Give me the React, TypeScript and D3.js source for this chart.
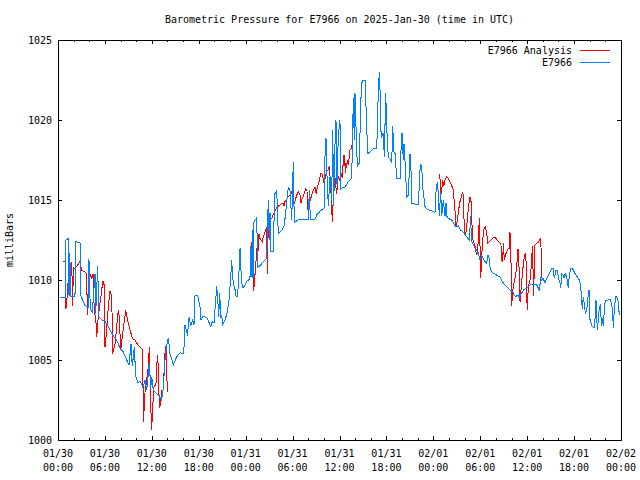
import React from "react";
import * as d3 from "d3";

const TITLE = "Barometric Pressure for E7966 on 2025-Jan-30 (time in UTC)";
const Y_LABEL = "milliBars";
const SERIES_NAMES = ["E7966 Analysis", "E7966"];
const SERIES_COLORS = ["#ff0000", "#0080ff"];
const Y_TICKS = [1000, 1005, 1010, 1015, 1020, 1025];
const START_UTC = Date.UTC(2025, 0, 30, 0, 0);
const SPAN_HOURS = 72;

// [hours since 2025-01-30 00:00 UTC, pressure in mb]
const analysisPart1: [number, number][] = [
  [0.68,1011.15],[0.90,1011.15],[0.98,1008.2],[1.11,1008.4],[1.24,1009.8],[1.41,1009.4],[1.53,1011.0],[1.66,1010.4],[1.75,1011.15],[1.88,1008.4],[1.96,1010.8],[2.17,1010.7],[2.60,1011.0],[2.81,1011.2],[3.03,1010.6],[3.45,1010.5],[3.67,1010.4],[3.75,1007.8],[3.87,1009.2],[4.00,1010.1],[4.18,1010.3],[4.31,1010.1],[4.51,1010.4],[4.64,1007.9],[4.82,1007.7],[4.95,1006.45],[5.08,1007.3],[5.15,1007.7],[5.37,1008.55],[5.50,1009.0],[5.72,1009.9],[5.88,1009.9],[6.01,1005.8],[6.23,1006.9],[6.43,1008.3],[6.65,1009.3],[6.87,1009.0],[7.00,1005.4],[7.29,1006.0],[7.51,1007.1],[7.71,1008.1],[7.84,1007.7],[8.02,1005.6],[8.22,1006.45],[8.44,1007.3],[8.66,1008.1],[8.79,1007.8],[8.99,1007.3],[9.21,1006.9],[9.50,1006.35],[9.85,1006.25],[10.27,1005.9],[10.70,1005.7],[10.83,1005.6],[10.91,1001.15],[11.04,1002.1],[11.13,1003.0],[11.34,1003.75],[11.55,1004.6],[11.68,1005.8],[11.86,1002.1],[11.98,1000.6],[12.11,1002.1],[12.28,1003.3],[12.53,1003.5],[12.70,1005.3],[12.83,1004.6],[12.96,1002.0],[13.13,1002.3],[13.26,1003.1],[13.39,1002.8],[13.56,1004.2],[13.68,1005.4],[13.81,1005.9],[13.90,1004.4],[13.98,1003.0]
];

const analysisPart2: [number, number][] = [
  [24.68,1012.4],[24.85,1011.0],[25.03,1009.3],[25.15,1010.1],[25.28,1010.8],[25.41,1012.0],[25.54,1011.45],[25.71,1012.9],[25.83,1012.6],[25.96,1012.5],[26.13,1012.4],[26.26,1012.7],[26.47,1013.0],[26.69,1013.3],[26.77,1010.4],[26.89,1013.4],[27.11,1013.75],[27.33,1013.85],[27.53,1014.1],[27.75,1014.3],[27.97,1014.5],[28.17,1014.6],[28.39,1014.7],[28.61,1014.8],[28.81,1014.8],[28.94,1014.6],[29.03,1014.9],[29.25,1015.0],[29.45,1015.2],[29.67,1015.3],[29.89,1015.5],[30.09,1015.0],[30.22,1014.8],[30.40,1015.1],[30.60,1015.4],[30.73,1015.5],[30.95,1015.3],[31.08,1014.8],[31.24,1015.1],[31.50,1015.4],[31.68,1015.7],[31.84,1015.6],[31.93,1014.4],[32.10,1014.8],[32.27,1015.0],[32.44,1015.3],[32.65,1015.6],[32.87,1015.8],[33.00,1015.4],[33.16,1015.8],[33.38,1016.15],[33.63,1016.7],[33.80,1016.6],[33.98,1016.15],[34.15,1016.35],[34.36,1016.8],[34.57,1016.9],[34.70,1017.1],[34.83,1016.25],[35.00,1014.6],[35.08,1013.6],[35.21,1015.2],[35.34,1016.8],[35.51,1015.9],[35.64,1015.4],[35.85,1016.5],[36.06,1016.2],[36.19,1016.7],[36.36,1016.4],[36.49,1017.5],[36.58,1017.8],[36.66,1017.5],[36.75,1016.7],[36.83,1017.3],[36.92,1017.0],[37.00,1017.5],[37.13,1017.2],[37.25,1017.7],[37.34,1018.1],[37.47,1018.2],[37.56,1018.3],[37.69,1018.65]
];

const analysisPart3: [number, number][] = [
  [48.76,1016.6],[48.85,1016.35],[48.94,1015.3],[49.07,1015.6],[49.19,1016.25],[49.36,1015.9],[49.49,1016.25],[49.71,1016.45],[49.91,1016.35],[50.13,1016.15],[50.35,1015.9],[50.56,1015.6],[50.77,1014.3],[50.90,1013.3],[51.07,1013.75],[51.24,1014.4],[51.41,1014.9],[51.63,1015.3],[51.76,1015.5],[51.83,1015.2],[51.96,1013.3],[52.05,1012.8],[52.18,1013.0],[52.35,1013.75],[52.47,1014.5],[52.69,1015.2],[52.82,1014.9],[52.95,1013.4],[53.03,1012.6],[53.20,1012.3],[53.33,1012.1],[53.55,1011.55],[53.67,1011.9],[53.80,1012.9],[53.88,1013.85],[53.97,1012.1],[54.06,1010.1],[54.19,1011.5],[54.31,1012.5],[54.48,1013.2],[54.65,1013.3],[54.83,1012.9],[54.95,1012.3],[55.16,1012.4],[55.46,1012.55],[55.76,1012.7],[56.01,1012.6],[56.31,1012.4],[56.53,1012.3],[56.65,1012.2],[56.74,1011.25],[56.87,1011.15],[56.95,1012.3],[57.08,1011.25],[57.21,1011.55],[57.38,1011.75],[57.59,1012.0],[57.72,1012.0],[57.80,1013.0],[57.93,1011.25],[58.02,1008.4],[58.15,1009.3],[58.32,1009.8],[58.49,1010.2],[58.66,1010.8],[58.79,1011.9],[58.92,1011.9],[59.00,1009.6],[59.09,1008.6],[59.30,1009.9],[59.51,1011.0],[59.63,1011.45],[59.76,1011.7],[59.85,1011.25],[59.94,1009.0],[60.02,1008.1],[60.14,1009.6],[60.27,1009.8],[60.45,1010.2],[60.58,1011.7],[60.66,1011.3],[60.71,1012.1],[60.79,1009.0],[60.87,1010.0],[61.00,1012.2],[61.13,1012.25],[61.22,1012.3],[61.42,1012.35],[61.64,1012.55],[61.73,1012.6],[61.81,1011.5],[61.86,1010.1]
];

const observed: [number, number][] = [
  [0.26,1008.9],[0.90,1008.9],[1.02,1012.5],[1.32,1012.6],[1.41,1009.0],[1.50,1011.7],[1.66,1009.0],[2.17,1009.0],[2.30,1012.4],[2.85,1012.3],[2.94,1009.0],[3.45,1008.4],[3.87,1008.3],[3.96,1011.3],[4.13,1008.2],[4.39,1008.0],[4.73,1010.4],[4.82,1007.9],[5.08,1010.9],[5.20,1007.7],[5.59,1007.5],[6.01,1007.4],[6.43,1007.1],[7.07,1006.5],[7.51,1006.25],[7.93,1005.75],[8.35,1005.5],[8.79,1005.0],[9.08,1004.7],[9.34,1006.0],[9.50,1004.6],[9.76,1005.8],[9.94,1004.0],[10.19,1003.6],[10.49,1003.65],[10.91,1003.33],[11.13,1003.75],[11.34,1003.1],[11.68,1004.8],[11.86,1003.2],[11.98,1003.96],[12.19,1003.1],[12.41,1003.0],[12.83,1002.8],[13.13,1002.6],[13.26,1002.5],[13.47,1003.3],[13.68,1005.0],[13.90,1005.9],[14.11,1006.4],[14.32,1005.4],[14.75,1004.7],[15.18,1005.2],[15.60,1005.45],[16.02,1005.4],[16.15,1006.0],[16.24,1007.2],[16.46,1006.8],[16.59,1006.5],[16.66,1007.3],[16.79,1007.7],[16.97,1007.1],[17.23,1007.5],[17.39,1007.2],[17.52,1009.0],[17.74,1009.06],[17.94,1008.9],[18.16,1008.3],[18.29,1007.5],[18.51,1007.7],[18.80,1007.7],[19.09,1007.6],[19.35,1007.3],[19.53,1007.1],[19.73,1007.4],[19.95,1007.3],[20.17,1008.75],[20.30,1009.6],[20.42,1008.85],[20.55,1007.7],[20.68,1009.2],[20.81,1007.7],[20.94,1007.8],[21.06,1007.2],[21.36,1007.5],[21.65,1008.0],[21.91,1008.9],[22.09,1010.2],[22.21,1011.25],[22.34,1010.2],[22.42,1009.8],[22.64,1009.4],[22.76,1009.0],[22.93,1009.0],[23.06,1009.6],[23.28,1012.0],[23.40,1010.6],[23.57,1009.5],[23.83,1009.6],[24.13,1009.9],[24.34,1010.0],[24.55,1010.1],[24.68,1012.1],[24.77,1010.2],[24.85,1013.1],[24.94,1010.1],[25.03,1013.6],[25.41,1013.9],[25.54,1010.8],[25.83,1010.9],[26.26,1011.15],[26.69,1011.35],[26.89,1015.0],[27.02,1012.5],[27.11,1014.2],[27.24,1011.8],[27.53,1011.8],[27.66,1014.4],[27.75,1015.4],[27.97,1015.6],[28.17,1012.9],[28.61,1013.1],[28.94,1013.4],[29.25,1014.9],[29.45,1015.8],[29.67,1015.6],[29.89,1013.75],[30.09,1017.4],[30.22,1013.6],[30.73,1013.75],[31.37,1013.8],[32.01,1013.8],[32.14,1015.6],[32.27,1013.8],[32.87,1013.8],[33.08,1014.06],[33.51,1014.3],[34.02,1014.5],[34.15,1017.8],[34.27,1018.9],[34.40,1016.5],[34.57,1014.6],[34.79,1016.5],[35.00,1015.0],[35.13,1019.4],[35.26,1014.6],[35.42,1018.4],[35.55,1020.0],[35.68,1016.0],[35.85,1019.0],[36.06,1020.0],[36.15,1015.7],[36.41,1015.8],[36.70,1015.8],[37.13,1016.15],[37.56,1016.35],[37.77,1021.35],[37.89,1018.75],[37.98,1021.7],[38.11,1019.6],[38.28,1017.1],[38.53,1017.3],[38.71,1021.0],[38.84,1022.3],[39.04,1022.5],[39.26,1022.5],[39.39,1020.8],[39.61,1017.9],[39.90,1018.0],[40.32,1018.2],[40.76,1018.2],[40.83,1019.4],[40.96,1021.8],[41.09,1023.0],[41.18,1021.9],[41.27,1019.4],[41.40,1019.0],[41.60,1019.2],[41.73,1017.7],[41.91,1021.7],[42.04,1019.5],[42.24,1017.7],[42.55,1017.5],[42.68,1017.3],[42.80,1019.6],[42.97,1018.0],[43.10,1017.9],[43.32,1016.35],[43.74,1016.35],[43.87,1018.2],[43.99,1019.2],[44.16,1017.5],[44.25,1018.5],[44.42,1017.1],[44.59,1015.2],[44.80,1015.3],[45.02,1017.9],[45.14,1016.9],[45.27,1014.8],[46.08,1014.7],[46.21,1016.0],[46.33,1017.2],[46.51,1017.1],[46.64,1015.8],[46.93,1014.6],[47.23,1014.4],[47.92,1014.3],[48.21,1014.2],[48.34,1015.5],[48.51,1016.15],[48.64,1015.4],[48.76,1014.0],[48.94,1015.5],[49.07,1014.0],[49.28,1015.0],[49.49,1014.0],[49.62,1014.8],[49.71,1014.0],[49.91,1013.85],[50.35,1013.75],[50.64,1013.5],[50.90,1013.3],[51.19,1013.4],[51.50,1013.1],[51.83,1013.0],[52.27,1012.7],[52.60,1012.5],[52.78,1014.0],[52.86,1012.5],[53.03,1012.3],[53.33,1012.0],[53.75,1011.7],[53.97,1011.25],[54.19,1011.5],[54.61,1011.15],[54.83,1011.05],[54.95,1011.5],[55.08,1011.55],[55.25,1010.8],[55.46,1010.5],[56.10,1010.3],[56.53,1010.2],[56.95,1009.8],[57.17,1009.7],[57.72,1009.4],[58.15,1009.3],[58.32,1009.06],[58.57,1008.96],[58.74,1009.06],[59.00,1008.96],[59.30,1009.2],[59.60,1009.4],[59.94,1009.5],[60.36,1009.7],[60.79,1009.7],[61.22,1009.7],[61.42,1009.5],[61.55,1009.3],[61.73,1010.1],[61.86,1010.0],[62.06,1010.1],[62.28,1009.8],[62.50,1010.1],[62.70,1010.3],[62.92,1010.5],[63.14,1010.7],[63.34,1010.7],[63.47,1010.1],[63.69,1010.6],[63.85,1010.6],[64.03,1010.1],[64.20,1009.8],[64.29,1009.5],[64.42,1010.4],[64.62,1010.3],[64.75,1010.1],[64.84,1010.4],[65.06,1010.2],[65.26,1009.5],[65.39,1010.3],[65.57,1010.7],[65.82,1010.7],[66.12,1010.4],[66.41,1010.2],[66.67,1010.0],[66.85,1009.6],[66.97,1008.75],[67.05,1008.2],[67.18,1008.96],[67.31,1008.5],[67.44,1007.9],[67.61,1008.1],[67.74,1008.75],[67.91,1009.4],[68.04,1007.5],[68.17,1007.3],[68.33,1007.1],[68.55,1007.0],[68.68,1007.6],[68.80,1008.75],[68.97,1006.9],[69.10,1007.5],[69.23,1008.3],[69.35,1008.4],[69.53,1007.1],[69.66,1007.6],[69.74,1007.1],[69.86,1008.1],[69.99,1008.75],[70.38,1008.75],[70.59,1008.8],[70.81,1008.5],[70.94,1007.9],[71.02,1007.0],[71.14,1008.1],[71.32,1008.96],[71.45,1008.96],[71.66,1008.65],[71.78,1007.8]
];

const W = 640;
const H = 480;
const M = { left: 58, right: 621, top: 40, bottom: 440 };
const FONT = "'DejaVu Sans Mono', 'Liberation Mono', monospace";

const hourToDate = (h: number) => new Date(START_UTC + h * 3600 * 1000);

export default function App() {
  const x = d3
    .scaleUtc()
    .domain([hourToDate(0), hourToDate(SPAN_HOURS)])
    .range([M.left, M.right]);
  const y = d3.scaleLinear().domain([1000, 1025]).range([M.bottom, M.top]);

  const line = d3
    .line<[number, number]>()
    .x((d) => x(hourToDate(d[0])))
    .y((d) => y(d[1]));

  const majorTicks = x.ticks(d3.utcHour.every(6)!);
  const minorTicks = x.ticks(d3.utcHour.every(2)!).filter((t) => t.getUTCHours() % 6 !== 0);
  const fmtDate = d3.utcFormat("%m/%d");
  const fmtTime = d3.utcFormat("%H:%M");

  const analysisParts = [analysisPart1, analysisPart2, analysisPart3];

  return (
    <svg
      width={W}
      height={H}
      style={{ position: "absolute", left: 0, top: 0, background: "#fff" }}
      fontFamily={FONT}
      fontSize={10}
    >
      <rect x={0} y={0} width={W} height={H} fill="#fff" />
      <text x={(M.left + M.right) / 2} y={23} textAnchor="middle" fill="#000">
        {TITLE}
      </text>
      <text
        transform={`translate(13,${(M.top + M.bottom) / 2}) rotate(-90)`}
        textAnchor="middle"
        fill="#000"
      >
        {Y_LABEL}
      </text>

      {/* y ticks */}
      {Y_TICKS.map((v) => (
        <g key={"y" + v} shapeRendering="crispEdges">
          <line x1={M.left} x2={M.left + 4} y1={Math.round(y(v)) + 0.5} y2={Math.round(y(v)) + 0.5} stroke="#000" />
          <line x1={M.right - 4} x2={M.right} y1={Math.round(y(v)) + 0.5} y2={Math.round(y(v)) + 0.5} stroke="#000" />
          <text x={M.left - 6} y={y(v) + 4} textAnchor="end" fill="#000">
            {v}
          </text>
        </g>
      ))}

      {/* x ticks */}
      {majorTicks.map((t) => {
        const px = Math.round(x(t)) + 0.5;
        return (
          <g key={"xm" + t.getTime()} shapeRendering="crispEdges">
            <line x1={px} x2={px} y1={M.bottom} y2={M.bottom - 4} stroke="#000" />
            <line x1={px} x2={px} y1={M.top} y2={M.top + 4} stroke="#000" />
            <text x={x(t)} y={457} textAnchor="middle" fill="#000">
              {fmtDate(t)}
            </text>
            <text x={x(t)} y={471} textAnchor="middle" fill="#000">
              {fmtTime(t)}
            </text>
          </g>
        );
      })}
      {minorTicks.map((t) => {
        const px = Math.round(x(t)) + 0.5;
        return (
          <g key={"xn" + t.getTime()} shapeRendering="crispEdges">
            <line x1={px} x2={px} y1={M.bottom} y2={M.bottom - 2} stroke="#000" />
            <line x1={px} x2={px} y1={M.top} y2={M.top + 2} stroke="#000" />
          </g>
        );
      })}

      {/* series */}
      <g fill="none" strokeWidth={1} shapeRendering="crispEdges">
        {analysisParts.map((part, i) => (
          <path key={"a" + i} d={line(part) || ""} stroke={SERIES_COLORS[0]} />
        ))}
        <path d={line(observed) || ""} stroke={SERIES_COLORS[1]} />
      </g>

      {/* frame */}
      <rect
        x={M.left + 0.5}
        y={M.top + 0.5}
        width={M.right - M.left}
        height={M.bottom - M.top}
        fill="none"
        stroke="#000"
        shapeRendering="crispEdges"
      />

      {/* legend */}
      {SERIES_NAMES.map((name, i) => (
        <g key={name}>
          <text x={572} y={54 + i * 12} textAnchor="end" fill="#000">
            {name}
          </text>
          <line
            x1={580}
            x2={610}
            y1={50.5 + i * 12}
            y2={50.5 + i * 12}
            stroke={SERIES_COLORS[i]}
            shapeRendering="crispEdges"
          />
        </g>
      ))}
    </svg>
  );
}
